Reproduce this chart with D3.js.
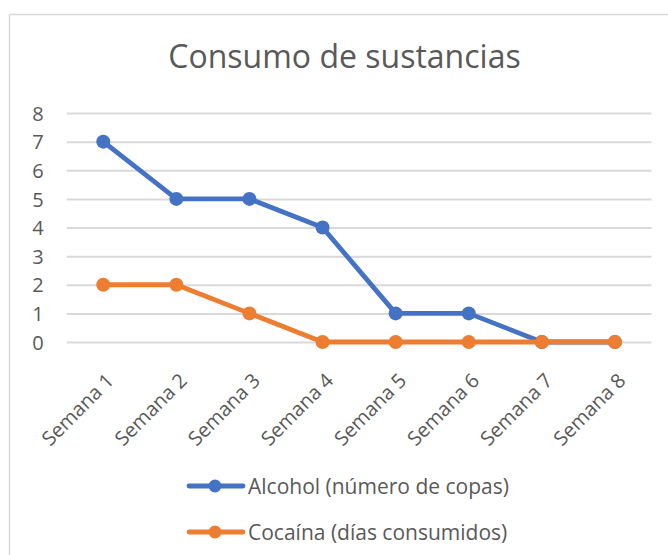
<!DOCTYPE html>
<html>
<head>
<meta charset="utf-8">
<script src="https://cdn.jsdelivr.net/npm/d3@7"></script>
<style>
  html, body { margin: 0; padding: 0; background: #fff; }
  svg { display: block; }
  text { font-family: "Open Sans", "Noto Sans", sans-serif; fill: #595959; }
</style>
</head>
<body>
<svg id="chart" width="668" height="555"></svg>
<script>
const title = "Consumo de sustancias";
const categories = ["Semana 1","Semana 2","Semana 3","Semana 4","Semana 5","Semana 6","Semana 7","Semana 8"];
const alcohol = [7, 5, 5, 4, 1, 1, 0, 0];
const cocaina = [2, 2, 1, 0, 0, 0, 0, 0];
const seriesNames = ["Alcohol (número de copas)", "Cocaína (días consumidos)"];
const yTicks = [0, 1, 2, 3, 4, 5, 6, 7, 8];
const colors = ["#4472C4", "#ED7D31"];

const svg = d3.select("#chart");

// chart border (top and left visible)
svg.append("line").attr("x1", 9.5).attr("x2", 668).attr("y1", 14.5).attr("y2", 14.5)
  .attr("stroke", "#d9d9d9").attr("stroke-width", 1.5);
svg.append("line").attr("x1", 9.5).attr("x2", 9.5).attr("y1", 14.5).attr("y2", 555)
  .attr("stroke", "#d9d9d9").attr("stroke-width", 1.5);

const plot = {left: 66.7, right: 651.5, top: 113, bottom: 342};

const x = d3.scaleBand().domain(categories).range([plot.left, plot.right]);
const y = d3.scaleLinear().domain([0, 8]).range([plot.bottom, plot.top]);

// title
svg.append("text").attr("x", 344.5).attr("y", 68)
  .attr("text-anchor", "middle").attr("font-size", 32).text(title);

// gridlines + y labels
const yAxis = d3.axisLeft(y).tickValues(yTicks).tickSize(-(plot.right - plot.left)).tickPadding(23).tickFormat(d3.format("d"));
const gy = svg.append("g").attr("transform", `translate(${plot.left},0)`).call(yAxis);
gy.select(".domain").remove();
gy.selectAll(".tick line").attr("stroke", "#d9d9d9").attr("stroke-width", 2);
gy.selectAll(".tick text").attr("font-size", 20).attr("fill", "#595959")
  .style("font-family", '"Open Sans", sans-serif').attr("dy", "0.36em");

// x axis labels
const xAxis = d3.axisBottom(x).tickSize(0).tickPadding(0);
const gx = svg.append("g").attr("transform", `translate(0,${plot.bottom})`).call(xAxis);
gx.select(".domain").remove();
gx.selectAll(".tick text")
  .attr("font-size", 20).attr("fill", "#595959")
  .style("font-family", '"Open Sans", sans-serif')
  .attr("text-anchor", "end")
  .attr("dy", "0.35em").attr("y", 0)
  .attr("transform", "translate(7,35) rotate(-45)");

const line = d3.line().x((d, i) => x(categories[i]) + x.bandwidth() / 2).y(d => y(d));
[alcohol, cocaina].forEach((data, k) => {
  const g = svg.append("g");
  g.append("path").datum(data).attr("d", line).attr("fill", "none")
    .attr("stroke", colors[k]).attr("stroke-width", 4.8).attr("stroke-linejoin", "round").attr("stroke-linecap", "round");
  g.selectAll("circle").data(data).join("circle")
    .attr("cx", (d, i) => x(categories[i]) + x.bandwidth() / 2)
    .attr("cy", d => y(d)).attr("r", 7).attr("fill", colors[k]);
});

// legend
const legY = [486, 532];
seriesNames.forEach((name, k) => {
  const g = svg.append("g");
  g.append("line").attr("x1", 189).attr("x2", 243).attr("y1", legY[k]).attr("y2", legY[k])
    .attr("stroke", colors[k]).attr("stroke-width", 4.8).attr("stroke-linecap", "round");
  g.append("circle").attr("cx", 215).attr("cy", legY[k]).attr("r", 6.5).attr("fill", colors[k]);
  g.append("text").attr("x", 248).attr("y", legY[k]).attr("dy", "0.36em")
    .attr("font-size", 21).text(name);
});
</script>
</body>
</html>
